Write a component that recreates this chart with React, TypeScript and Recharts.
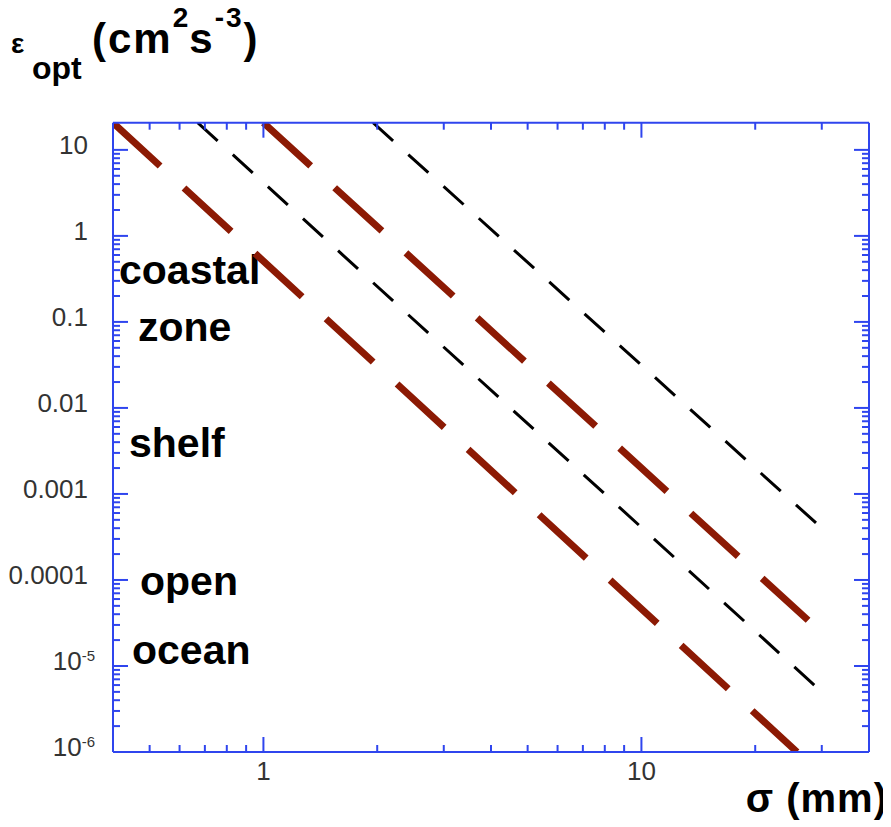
import React from "react";
import { LineChart, Line, XAxis, YAxis, Customized } from "recharts";

// ---- data ----
const xDomain: [number, number] = [0.4, 40];
const yDomain: [number, number] = [1e-6, 20.7];
const xTicks = [0.5, 0.6, 0.7, 0.8, 0.9, 1, 2, 3, 4, 5, 6, 7, 8, 9, 10, 20, 30];
const yTicks = [
  1e-6, 2e-6, 3e-6, 4e-6, 5e-6, 6e-6, 7e-6, 8e-6, 9e-6, 1e-5,
  2e-5, 3e-5, 4e-5, 5e-5, 6e-5, 7e-5, 8e-5, 9e-5, 1e-4,
  2e-4, 3e-4, 4e-4, 5e-4, 6e-4, 7e-4, 8e-4, 9e-4, 1e-3,
  2e-3, 3e-3, 4e-3, 5e-3, 6e-3, 7e-3, 8e-3, 9e-3, 1e-2,
  2e-2, 3e-2, 4e-2, 5e-2, 6e-2, 7e-2, 8e-2, 9e-2, 1e-1,
  0.2, 0.3, 0.4, 0.5, 0.6, 0.7, 0.8, 0.9, 1,
  2, 3, 4, 5, 6, 7, 8, 9, 10,
];
const redLine1 = [
  { s: 0.4, e: 20.7 },
  { s: 25.8, e: 1e-6 },
];
const redLine2 = [
  { s: 1.0, e: 20.7 },
  { s: 27.6, e: 3.4e-5 },
];
const blackLine1 = [
  { s: 0.67, e: 20.7 },
  { s: 30, e: 5e-6 },
];
const blackLine2 = [
  { s: 1.95, e: 20.7 },
  { s: 30, e: 4e-4 },
];
const regionLabels = ["coastal", "zone", "shelf", "open", "ocean"];

// ---- styles ----
const BLUE = "#2f45ee";
const RED = "#8c1a04";
const LABEL = "#333333";
const FONT = "'Liberation Sans', Arial, Helvetica, sans-serif";

const isMajor = (v: number) => {
  const l = Math.log10(v);
  return Math.abs(l - Math.round(l)) < 1e-6;
};

const yLabel = (v: number, x: number, y: number) => {
  const exp = Math.round(Math.log10(v));
  if (exp >= -4) {
    return (
      <text x={x - 25} y={y + 4} textAnchor="end" fontSize={26} fill={LABEL} fontFamily={FONT}>
        {String(v)}
      </text>
    );
  }
  return (
    <text x={x - 18} y={y + 4} textAnchor="end" fontSize={26} fill={LABEL} fontFamily={FONT}>
      10
      <tspan fontSize={15} dy={-9}>
        {String(exp)}
      </tspan>
    </text>
  );
};

const BottomTick = (props: any) => {
  const { x, y, payload } = props;
  const major = isMajor(payload.value);
  return (
    <g>
      <line x1={x} y1={y} x2={x} y2={y - (major ? 15 : 7)} stroke={BLUE} strokeWidth={2} />
      {major && (
        <text x={x} y={y + 28} textAnchor="middle" fontSize={26} fill={LABEL} fontFamily={FONT}>
          {String(payload.value)}
        </text>
      )}
    </g>
  );
};

const TopTick = (props: any) => {
  const { x, y, payload } = props;
  const major = isMajor(payload.value);
  return <line x1={x} y1={y} x2={x} y2={y + (major ? 15 : 7)} stroke={BLUE} strokeWidth={2} />;
};

const LeftTick = (props: any) => {
  const { x, y, payload } = props;
  const major = isMajor(payload.value);
  return (
    <g>
      <line x1={x} y1={y} x2={x + (major ? 15 : 7)} y2={y} stroke={BLUE} strokeWidth={2} />
      {major && yLabel(payload.value, x, y)}
    </g>
  );
};

const RightTick = (props: any) => {
  const { x, y, payload } = props;
  const major = isMajor(payload.value);
  return <line x1={x} y1={y} x2={x - (major ? 15 : 7)} y2={y} stroke={BLUE} strokeWidth={2} />;
};

const labelPos: [number, number][] = [
  [119, 284],
  [138, 341],
  [129, 457],
  [140, 595],
  [132, 664],
];

const Texts = () => (
  <g fontFamily={FONT} fontWeight="bold" fill="#000">
    <text x={11} y={53} fontSize={28}>ε</text>
    <text x={32} y={79} fontSize={32}>opt</text>
    <text x={92} y={53} fontSize={42} letterSpacing={2}>
      (cm
      <tspan fontSize={28} dy={-26}>2</tspan>
      <tspan dy={26} dx={-1}>s</tspan>
      <tspan fontSize={28} dy={-26}>-3</tspan>
      <tspan dy={26}>)</tspan>
    </text>
    {regionLabels.map((t, i) => (
      <text key={t} x={labelPos[i][0]} y={labelPos[i][1]} fontSize={41}>
        {t}
      </text>
    ))}
    <text x={888} y={812} fontSize={40} textAnchor="end" letterSpacing={1}>
      σ (mm)
    </text>
  </g>
);

const axisLineStyle = { stroke: BLUE, strokeWidth: 2 };

export default function App() {
  return (
    <div style={{ width: 891, height: 827, margin: "-8px 0 0 -8px", fontFamily: FONT }}>
      <LineChart
        width={891}
        height={827}
        margin={{ top: 121.7, right: 21, bottom: 74, left: 112 }}
      >
        <XAxis
          xAxisId="b"
          type="number"
          dataKey="s"
          scale="log"
          domain={xDomain}
          allowDataOverflow
          ticks={xTicks}
          interval={0}
          height={1}
          tickSize={0}
          tickMargin={0}
          tickLine={false}
          axisLine={axisLineStyle}
          tick={<BottomTick />}
        />
        <XAxis
          xAxisId="t"
          orientation="top"
          type="number"
          dataKey="s"
          scale="log"
          domain={xDomain}
          allowDataOverflow
          ticks={xTicks}
          interval={0}
          height={1}
          tickSize={0}
          tickMargin={0}
          tickLine={false}
          axisLine={axisLineStyle}
          tick={<TopTick />}
        />
        <YAxis
          yAxisId="l"
          type="number"
          dataKey="e"
          scale="log"
          domain={yDomain}
          allowDataOverflow
          ticks={yTicks}
          interval={0}
          width={1}
          tickSize={0}
          tickMargin={0}
          tickLine={false}
          axisLine={axisLineStyle}
          tick={<LeftTick />}
        />
        <YAxis
          yAxisId="r"
          orientation="right"
          type="number"
          dataKey="e"
          scale="log"
          domain={yDomain}
          allowDataOverflow
          ticks={yTicks}
          interval={0}
          width={1}
          tickSize={0}
          tickMargin={0}
          tickLine={false}
          axisLine={axisLineStyle}
          tick={<RightTick />}
        />
        <Line
          xAxisId="b"
          yAxisId="l"
          data={blackLine1}
          dataKey="e"
          stroke="#000"
          strokeWidth={3}
          strokeDasharray="27 20.5"
          dot={false}
          activeDot={false}
          isAnimationActive={false}
        />
        <Line
          xAxisId="b"
          yAxisId="l"
          data={blackLine2}
          dataKey="e"
          stroke="#000"
          strokeWidth={3}
          strokeDasharray="27 20.5"
          dot={false}
          activeDot={false}
          isAnimationActive={false}
        />
        <Line
          xAxisId="b"
          yAxisId="l"
          data={redLine1}
          dataKey="e"
          stroke={RED}
          strokeWidth={7}
          strokeDasharray="64 32.5"
          dot={false}
          activeDot={false}
          isAnimationActive={false}
        />
        <Line
          xAxisId="b"
          yAxisId="l"
          data={redLine2}
          dataKey="e"
          stroke={RED}
          strokeWidth={7}
          strokeDasharray="64 32.5"
          dot={false}
          activeDot={false}
          isAnimationActive={false}
        />
        <Customized component={Texts} />
      </LineChart>
    </div>
  );
}
